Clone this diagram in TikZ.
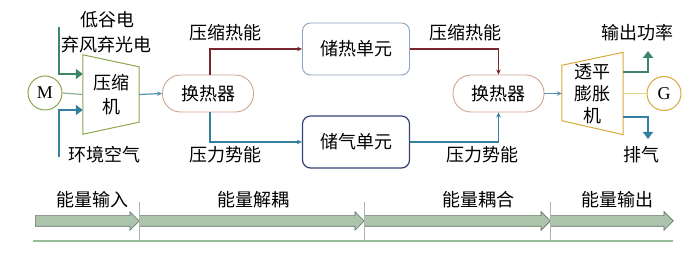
\documentclass[tikz,border=0pt]{standalone}
\usepackage{fontspec}
\setmainfont{Liberation Serif}
\newfontfamily\cjk{Noto Sans CJK SC}
\usetikzlibrary{arrows.meta,calc,shapes.arrows}
\definecolor{feedgreen}{RGB}{62,134,104}
\definecolor{airblue}{RGB}{52,128,158}
\definecolor{heatred}{RGB}{118,38,44}
\definecolor{hxrim}{RGB}{204,164,144}
\definecolor{hsrim}{RGB}{140,164,190}
\definecolor{gsrim}{RGB}{52,66,116}
\definecolor{cmprim}{RGB}{140,166,82}
\definecolor{tbnrim}{RGB}{214,168,58}
\definecolor{shaftgreen}{RGB}{140,176,150}
\definecolor{shaftyellow}{RGB}{226,212,140}
\definecolor{stagefill}{RGB}{172,196,172}
\definecolor{stagerim}{RGB}{100,112,100}
\definecolor{basegreen}{RGB}{150,190,150}
\begin{document}
\begin{tikzpicture}[x=1pt, y=-1pt,
    every node/.style = {font=\cjk\fontsize{18}{22}\selectfont, inner sep=0pt},
    machine/.style = {draw, circle, line width=1pt, minimum size=34pt,
      font=\fontsize{18}{22}\selectfont},
    hxbox/.style = {draw=hxrim, line width=0.9pt, rounded corners=18pt,
      minimum width=91pt, minimum height=37pt},
    storebox/.style = {draw, line width=0.9pt, rounded corners=8pt,
      minimum width=107pt, minimum height=52pt},
    flow/.style = {line width=1.2pt, -{Stealth[length=5pt,width=4.5pt]}},
    feed/.style = {line width=2.6pt, -{Triangle[length=7pt,width=10pt]}},
    stage/.style = {single arrow, draw=stagerim, fill=stagefill, line width=0.6pt,
      single arrow head extend=4pt, inner ysep=5pt, inner xsep=0pt, anchor=west}]
  \useasboundingbox (0,0) rectangle (700,253);
  % machines and units
  \node[machine, draw=cmprim] (M) at (45,93) {M};
  \node[minimum width=56pt, minimum height=79pt, align=center,
    font=\cjk\fontsize{18}{24}\selectfont] (cmp) at (111,94.5) {压缩\\机};
  \draw[cmprim, line width=1pt] (cmp.north west) -- ($(cmp.north east)+(0,12)$)
    -- ($(cmp.south east)+(0,-12)$) -- (cmp.south west) -- cycle;
  \node[hxbox] (hxa) at (208,93.5) {换热器};
  \node[storebox, draw=hsrim] (hsu) at (356,49) {储热单元};
  \node[storebox, draw=gsrim, line width=1.2pt] (gsu) at (356,142) {储气单元};
  \node[hxbox] (hxb) at (498.5,93.5) {换热器};
  \node[minimum width=61pt, minimum height=82pt, align=center] (tbn) at (592.5,93.5) {透平\\膨胀\\机};
  \draw[tbnrim, line width=1pt] ($(tbn.north west)+(0,13)$) -- (tbn.north east)
    -- (tbn.south east) -- ($(tbn.south west)+(0,-14)$) -- cycle;
  \node[machine, draw=tbnrim] (G) at (664,93.5) {G};
  % labels
  \node (lowv) at (107,20) {低谷电};
  \node (wind) at (106,45) {弃风弃光电};
  \node (air) at (104,155) {环境空气};
  \node (heata) at (225,33) {压缩热能};
  \node (presa) at (225,155) {压力势能};
  \node (heatb) at (465,33) {压缩热能};
  \node (presb) at (482,155) {压力势能};
  \node (power) at (637,33) {输出功率};
  \node (exh) at (641,155) {排气};
  \coordinate (gsrc) at (59,27);
  \coordinate (asrc) at (59,157);
  \coordinate (otip) at (648,51);
  \coordinate (etip) at (648,139);
  % connectors
  \draw[shaftgreen, line width=1.2pt] (M.east) -- (cmp.west);
  \draw[feed, feedgreen] (gsrc) |- ($(cmp.west)+(0,-20.5)$);
  \draw[feed, airblue] (asrc) |- ($(cmp.west)+(0,15.5)$);
  \draw[flow, airblue!85!white] (cmp.east) -- (hxa.west);
  \draw[flow, heatred] ([xshift=2pt]hxa.north) |- (hsu.west);
  \draw[flow, airblue] ([xshift=2pt]hxa.south) |- (gsu.west);
  \draw[flow, heatred] (hsu.east) -| (hxb.north);
  \draw[flow, airblue] (gsu.east) -| (hxb.south);
  \draw[flow, airblue!85!white] (hxb.east) -- (tbn.west);
  \draw[shaftyellow, line width=1.2pt] (tbn.east) -- (G.west);
  \draw[feed, feedgreen] ($(tbn.east)+(0,-21.5)$) -| (otip);
  \draw[feed, airblue] ($(tbn.east)+(0,23.5)$) -| (etip);
  % energy stages
  \node[stage, minimum height=104pt] (stin) at (35,221) {};
  \node[stage, minimum height=225pt] (stdec) at (139,221) {};
  \node[stage, minimum height=186pt] (stcpl) at (364,221) {};
  \node[stage, minimum height=123pt] (stout) at (550,221) {};
  \node (lin) at (92,200) {能量输入};
  \node (ldec) at (253,200) {能量解耦};
  \node (lcpl) at (478,200) {能量耦合};
  \node (lout) at (617,200) {能量输出};
  \coordinate (basel) at (33,241);
  \coordinate (baser) at (673,241);
  \draw[basegreen, line width=2.4pt] (basel) -- (baser);
  \foreach \s in {stin, stdec, stcpl}
    \draw[gray!60, line width=0.6pt] (\s.east |- 0,202) -- (\s.east |- basel);
\end{tikzpicture}
\end{document}
